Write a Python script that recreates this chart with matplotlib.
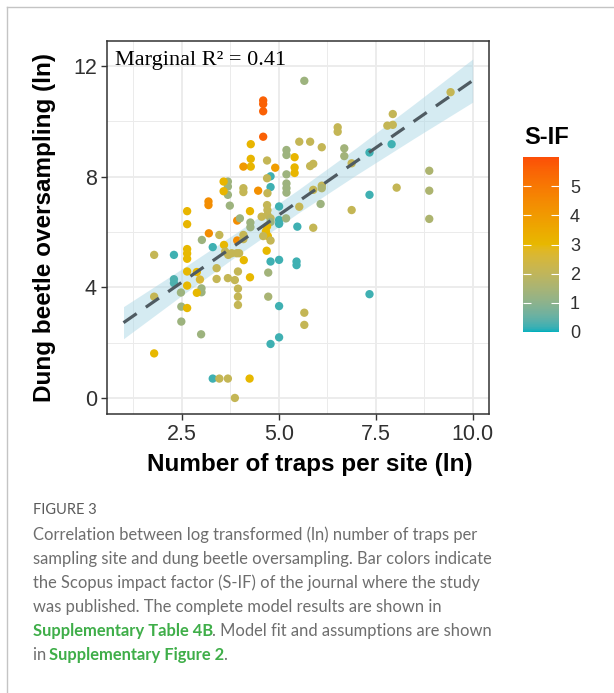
import numpy as np
import matplotlib
matplotlib.use("Agg")
import matplotlib.pyplot as plt
from matplotlib.colors import ListedColormap, Normalize, to_rgb
from matplotlib.cm import ScalarMappable
from matplotlib.lines import Line2D

# ln(number of traps per site)
traps = [5.66, 4.60, 4.60, 4.60, 4.60, 9.43, 7.94, 7.80, 7.94, 6.52, 6.52, 4.28, 5.53, 5.81,
         6.11, 6.69, 6.69, 7.34, 7.91, 6.88, 5.81, 5.89, 4.28, 4.28, 4.09, 4.70, 4.91, 5.20,
         5.20, 5.20, 5.20, 5.20, 5.20, 5.41, 5.41, 5.41, 4.79, 4.79, 4.70, 3.69, 3.69, 3.69,
         3.58, 3.58, 4.09, 4.09, 4.47, 4.71, 5.89, 6.11, 6.11, 8.04, 8.88, 8.88, 8.88, 7.34,
         6.08, 6.88, 5.53, 3.74, 3.19, 3.19, 2.64, 5.01, 4.70, 4.26, 2.64, 3.93, 4.00, 4.27,
         4.27, 5.01, 5.01, 5.19, 5.48, 5.89, 4.71, 4.56, 4.71, 4.79, 4.79, 4.70, 4.67, 4.72,
         4.60, 4.79, 4.69, 4.79, 5.01, 5.46, 5.46, 3.20, 3.59, 3.30, 3.47, 3.02, 3.93, 4.09,
         4.09, 3.62, 3.70, 3.79, 3.92, 3.98, 2.64, 2.64, 2.64, 2.30, 1.79, 4.10, 2.64, 2.89,
         2.97, 3.40, 3.40, 3.69, 3.87, 3.95, 4.26, 4.73, 2.30, 2.30, 2.64, 3.01, 3.01, 2.89,
         2.48, 1.79, 3.95, 3.95, 3.95, 2.49, 2.64, 2.49, 4.73, 5.01, 5.66, 5.66, 3.00, 4.79,
         5.01, 1.79, 3.30, 3.47, 3.69, 4.25, 3.87, 7.34]
# ln(dung beetle oversampling)
oversampling = [11.46, 10.75, 10.62, 10.36, 9.44, 11.05, 10.26, 9.84, 9.87, 9.78, 9.62, 9.17, 9.26, 9.26,
                9.06, 9.02, 8.74, 8.87, 9.17, 8.48, 8.38, 8.46, 8.64, 8.36, 8.36, 8.58, 8.32, 8.96,
                8.78, 8.08, 7.75, 7.58, 7.42, 8.70, 8.33, 8.13, 8.01, 7.62, 7.94, 7.82, 7.64, 7.34,
                7.82, 7.47, 7.58, 7.44, 7.49, 7.40, 7.52, 7.67, 7.58, 7.60, 8.21, 7.49, 6.47, 7.34,
                7.01, 6.79, 6.91, 6.95, 7.10, 6.97, 6.75, 6.92, 6.97, 6.75, 6.28, 6.41, 6.49, 6.34,
                6.17, 6.43, 6.29, 6.49, 6.19, 6.15, 6.79, 6.55, 6.61, 6.49, 6.36, 6.20, 6.02, 5.85,
                5.85, 5.69, 5.32, 4.93, 4.99, 4.93, 4.80, 5.95, 5.53, 5.45, 5.89, 5.71, 5.69, 5.89,
                5.74, 5.29, 5.17, 5.23, 5.23, 5.23, 5.38, 5.22, 5.03, 5.17, 5.17, 4.98, 4.57, 4.55,
                4.28, 4.69, 4.30, 4.33, 4.26, 4.57, 4.36, 4.53, 4.29, 4.15, 4.06, 3.96, 3.82, 3.80,
                3.81, 3.66, 3.95, 3.66, 3.36, 3.30, 3.25, 2.76, 3.66, 3.32, 3.08, 2.64, 2.30, 1.95,
                2.19, 1.61, 0.70, 0.70, 0.70, 0.70, 0.00, 3.75]
# Scopus impact factor of the journal
sif = [1.3, 5.6, 5.6, 5.6, 5.6, 2.1, 2.1, 2.1, 2.1, 2.1, 2.1, 3.1, 2.1, 2.1,
       2.1, 1.4, 1.4, 0.2, 0.2, 2.1, 2.1, 2.1, 3.1, 3.1, 4.0, 2.1, 3.9, 1.3,
       1.3, 1.3, 1.3, 1.3, 1.3, 3.1, 3.1, 3.1, 0.2, 0.2, 2.1, 1.3, 1.3, 1.3,
       3.1, 3.1, 2.1, 2.1, 4.3, 2.1, 2.1, 2.1, 1.6, 2.1, 1.6, 1.6, 1.6, 0.2,
       1.3, 2.1, 2.1, 1.3, 4.4, 4.4, 3.1, 0.2, 2.1, 3.1, 3.1, 4.4, 1.3, 1.3,
       1.3, 0.2, 0.2, 1.3, 0.2, 2.1, 2.1, 2.2, 2.1, 1.9, 1.3, 3.0, 3.0, 3.0,
       2.1, 2.1, 3.0, 0.2, 0.2, 0.2, 0.2, 4.4, 3.0, 0.2, 2.1, 1.3, 4.4, 2.1,
       2.1, 2.1, 2.1, 2.1, 2.1, 2.1, 3.0, 3.0, 3.0, 0.2, 2.1, 3.0, 3.0, 3.0,
       2.6, 2.1, 2.1, 2.1, 2.1, 2.1, 3.0, 1.4, 0.3, 0.3, 3.0, 1.3, 1.3, 3.0,
       1.3, 2.1, 2.1, 2.1, 2.1, 1.3, 3.0, 1.3, 1.5, 0.2, 2.1, 2.1, 1.3, 0.2,
       0.2, 3.0, 0.2, 2.1, 2.1, 3.0, 2.1, 0.2]

# fitted line and its confidence band
fit_x = [1.0, 10.0]
fit_y = [2.72, 11.47]
band_x = [1.0, 2.5, 4.0, 5.5, 7.0, 8.5, 10.0]
band_lo = [2.14, 3.70, 5.22, 6.68, 8.06, 9.39, 10.69]
band_hi = [3.30, 4.66, 6.06, 7.52, 9.04, 10.63, 12.25]

W, H = 614, 693

# ggplot-style gradient (interpolated in Lab space)
M = np.array([[0.4124, 0.3576, 0.1805], [0.2126, 0.7152, 0.0722], [0.0193, 0.1192, 0.9505]])
WHITE = np.array([0.95047, 1.0, 1.08883])


def to_lab(c):
    rgb = np.array(to_rgb(c))
    lin = np.where(rgb <= 0.04045, rgb / 12.92, ((rgb + 0.055) / 1.055) ** 2.4)
    xyz = M @ lin / WHITE
    f = np.where(xyz > 0.008856, np.cbrt(xyz), 7.787 * xyz + 16 / 116)
    return np.array([116 * f[1] - 16, 500 * (f[0] - f[1]), 200 * (f[1] - f[2])])


def from_lab(lab):
    fy = (lab[0] + 16) / 116
    f = np.array([fy + lab[1] / 500, fy, fy - lab[2] / 200])
    xyz = np.where(f ** 3 > 0.008856, f ** 3, (f - 16 / 116) / 7.787) * WHITE
    lin = np.clip(np.linalg.inv(M) @ xyz, 0, None)
    rgb = np.where(lin <= 0.0031308, 12.92 * lin, 1.055 * lin ** (1 / 2.4) - 0.055)
    return np.clip(rgb, 0, 1)


anchors = [to_lab(c) for c in ["#00AFBB", "#E7B800", "#FC4E07"]]
cols = []
for t in np.linspace(0, 1, 256):
    i = 0 if t < 0.5 else 1
    u = (t - 0.5 * i) / 0.5
    cols.append(from_lab(anchors[i] * (1 - u) + anchors[i + 1] * u))
cmap = ListedColormap(cols)
norm = Normalize(0, 6)

fig = plt.figure(figsize=(W / 100, H / 100), dpi=100)
ax = fig.add_axes([106.7 / W, 1 - 414 / H, 382.3 / W, 373.3 / H])

ax.fill_between(band_x, band_lo, band_hi, color="#add8e6", alpha=0.5, lw=0, zorder=2)
ax.scatter(traps, oversampling, c=sif, cmap=cmap, norm=norm, s=36, lw=0, zorder=3)
ax.plot(fit_x, fit_y, color="#4f5b62", lw=2.3, dashes=(5, 3.5), zorder=4)

ax.set_xlim(0.567, 10.42)
ax.set_ylim(-0.58, 12.91)
ax.set_xticks([2.5, 5.0, 7.5, 10.0])
ax.set_xticklabels(["2.5", "5.0", "7.5", "10.0"])
ax.set_yticks([0, 4, 8, 12])
ax.set_xticks([1.25, 3.75, 6.25, 8.75], minor=True)
ax.set_yticks([2, 6, 10], minor=True)
ax.grid(True, which="major", color="#ebebeb", lw=1.3, zorder=0)
ax.grid(True, which="minor", color="#ebebeb", lw=0.7, zorder=0)
ax.set_axisbelow(True)
ax.tick_params(which="major", length=4, width=1, color="#333333", labelsize=15.5,
               labelcolor="#303030", pad=3)
ax.tick_params(which="minor", length=0)
for lab in ax.get_xticklabels() + ax.get_yticklabels():
    lab.set_family("Liberation Sans")
for s in ax.spines.values():
    s.set_color("#333333")
    s.set_linewidth(1.1)

ax.text(0.78, 12.03, "Marginal R² = 0.41", family="Liberation Serif", fontsize=16,
        va="baseline", ha="left", zorder=5)

fig.text(309.5 / W, 1 - 465 / H, "Number of traps per site (ln)", family="Liberation Sans",
         fontweight="bold", fontsize=17.5, ha="center", va="center")
fig.text(45 / W, 1 - 228 / H, "Dung beetle oversampling (ln)", family="Liberation Sans",
         fontweight="bold", fontsize=17.5, ha="center", va="center", rotation=90)

# colour bar
cax = fig.add_axes([523 / W, 1 - 332 / H, 36 / W, 175 / H])
cb = fig.colorbar(ScalarMappable(norm=norm, cmap=cmap), cax=cax)
cb.outline.set_visible(False)
cb.set_ticks([0, 1, 2, 3, 4, 5])
cax.yaxis.set_ticks_position("both")
cax.tick_params(direction="in", length=6, width=0.8, color="white", labelsize=13,
                labelcolor="#303030", pad=8, labelright=True, labelleft=False)
for lab in cax.get_yticklabels():
    lab.set_family("Liberation Sans")
fig.text(524 / W, 1 - 137 / H, "S-IF", family="Liberation Sans", fontweight="bold",
         fontsize=17, ha="left", va="center")

# card border
fig.add_artist(Line2D([7 / W, 7 / W], [0, 1 - 7 / H], transform=fig.transFigure,
                      color="#c4c4c4", lw=1))
fig.add_artist(Line2D([7 / W, 1], [1 - 7 / H, 1 - 7 / H], transform=fig.transFigure,
                      color="#c4c4c4", lw=1))

# caption
grey = "#6e6e6e"
green = "#3fae49"
fig.text(33 / W, 1 - 510 / H, "FIGURE 3", family="Lato", fontsize=10.5, color="#5a5a5a",
         va="center")
lines = [
    [("Correlation between log transformed (ln) number of traps per", grey, "normal")],
    [("sampling site and dung beetle oversampling. Bar colors indicate", grey, "normal")],
    [("the Scopus impact factor (S-IF) of the journal where the study", grey, "normal")],
    [("was published. The complete model results are shown in", grey, "normal")],
    [("Supplementary Table 4B", green, "bold"), (". Model fit and assumptions are shown", grey, "normal")],
    [("in ", grey, "normal"), ("Supplementary Figure 2", green, "bold"), (".", grey, "normal")],
]
renderer = fig.canvas.get_renderer()
for k, parts in enumerate(lines):
    x = 33 / W
    y = 1 - (535 + 24 * k) / H
    for txt, col, wt in parts:
        t = fig.text(x, y, txt, family="Lato", fontsize=11.9, color=col, fontweight=wt,
                     va="center", ha="left")
        x = (t.get_window_extent(renderer=renderer).x1 - 1.5) / W

fig.savefig("out.png", dpi=100)
